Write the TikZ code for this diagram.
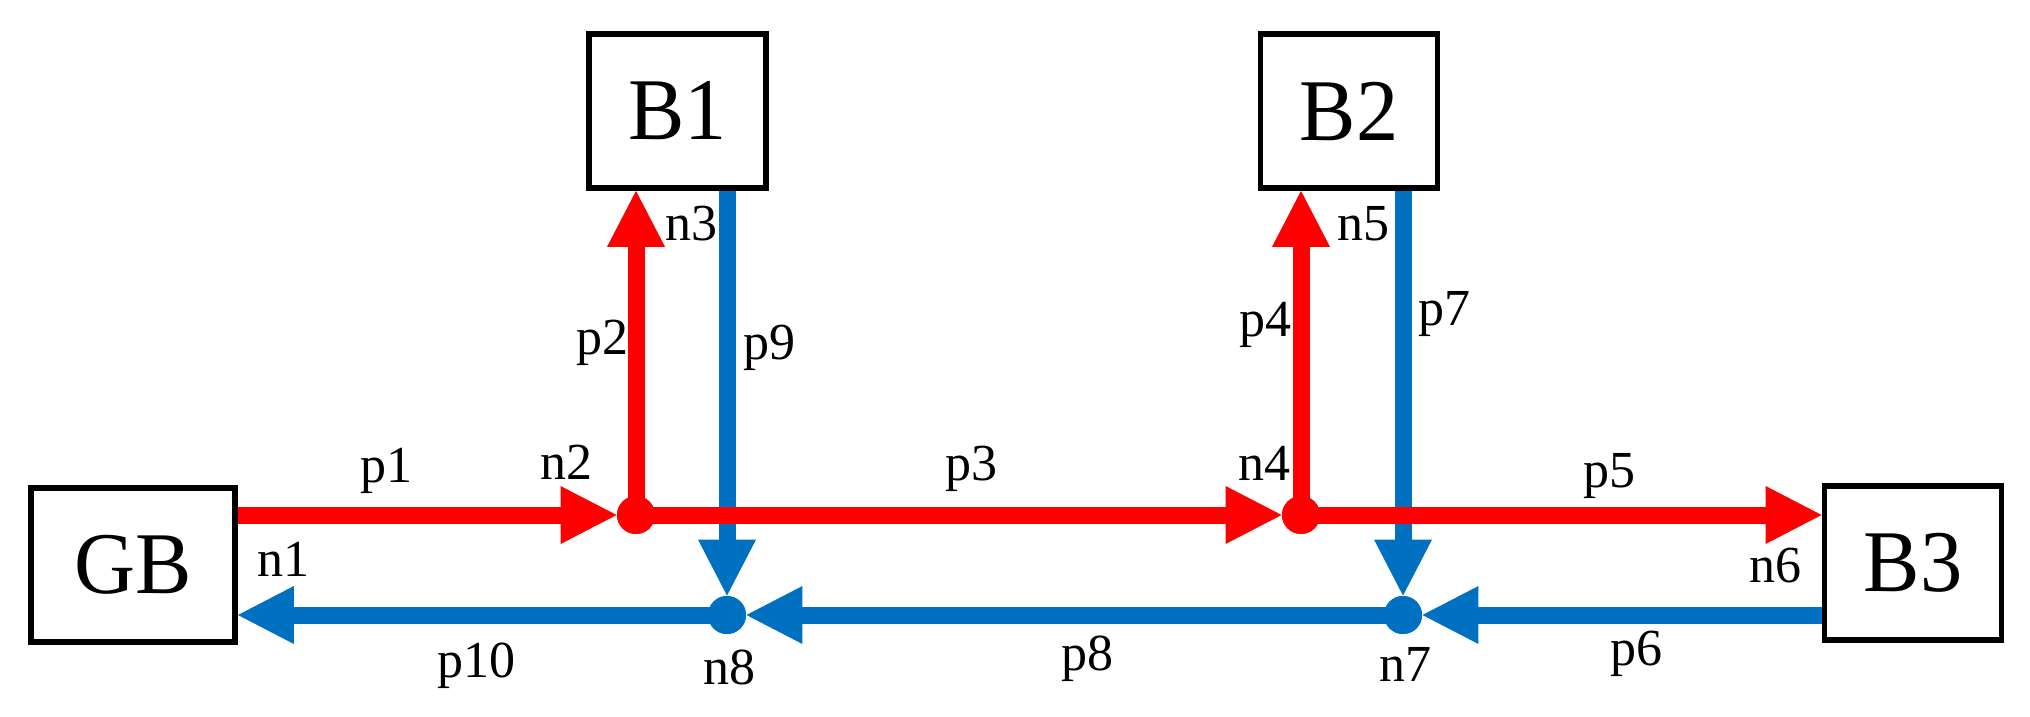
\documentclass[tikz,border=0pt]{standalone}
\usepackage{fontspec}
\setmainfont{Liberation Serif}
\newfontfamily\lblfont{Liberation Serif}
\newfontfamily\boxfont[FakeStretch=0.96]{Liberation Serif}
\usetikzlibrary{arrows.meta}
\definecolor{myred}{RGB}{255,0,0}
\definecolor{myblue}{RGB}{0,112,192}
\tikzset{
  box/.style={draw=black, line width=2.9pt, rectangle, inner sep=0pt, minimum height=77pt, font=\boxfont\fontsize{44pt}{50pt}\selectfont},
  rdot/.style={circle, fill=myred, inner sep=0pt, minimum size=19pt},
  bdot/.style={circle, fill=myblue, inner sep=0pt, minimum size=19pt},
  redline/.style={draw=myred, line width=8.5pt, -{Triangle[length=28pt,width=29pt,line width=0pt]}},
  blueline/.style={draw=myblue, line width=8.5pt, -{Triangle[length=28pt,width=29pt,line width=0pt]}},
  lbl/.style={anchor=base, inner sep=0pt, font=\lblfont\fontsize{26pt}{30pt}\selectfont}
}
\begin{document}
\begin{tikzpicture}[x=0.5pt, y=-0.5pt]
\useasboundingbox (0,0) rectangle (2030,717);
% boxes
\node[box, minimum width=102pt] (GB) at (133,565) {GB};
\node[box, minimum width=88.5pt] (B1) at (677.5,111) {B1};
\node[box, minimum width=88.5pt] (B2) at (1349,111) {B2};
\node[box, minimum width=88.5pt] (B3) at (1913,563) {B3};
% junctions
\node[rdot] (n2) at (636,515) {};
\node[rdot] (n4) at (1301,515) {};
\node[bdot] (n8) at (727,615) {};
\node[bdot] (n7) at (1403,615) {};
% blue flows
\draw[blueline] (n8 |- B1.south) -- (n8);
\draw[blueline] (n7 |- B2.south) -- (n7);
\draw[blueline] (B3.west |- n7) -- (n7);
\draw[blueline] (n7.center) -- (n8);
\draw[blueline] (n8.center) -- (GB.east |- n8);
% red flows
\draw[redline] (GB.east |- n2) -- (n2);
\draw[redline] (n2.center) -- (n4);
\draw[redline] (n4.center) -- (B3.west |- n4);
\draw[redline] (n2.center) -- (n2 |- B1.south);
\draw[redline] (n4.center) -- (n4 |- B2.south);
% redraw dots on top
\node[rdot] at (n2) {};
\node[rdot] at (n4) {};
\node[bdot] at (n8) {};
\node[bdot] at (n7) {};
% labels
\node[lbl] (lp1) at (386,482) {p1};
\node[lbl] (ln2) at (566,479) {n2};
\node[lbl] (lp2) at (602,354) {p2};
\node[lbl] (ln3) at (691,240) {n3};
\node[lbl] (lp9) at (769,359) {p9};
\node[lbl] (lp3) at (971,480) {p3};
\node[lbl] (ln1) at (283,576) {n1};
\node[lbl] (lp10) at (476,677) {p10};
\node[lbl] (ln8) at (729,684) {n8};
\node[lbl] (ln5) at (1363,240) {n5};
\node[lbl] (lp4) at (1265,336) {p4};
\node[lbl] (lp7) at (1444,325) {p7};
\node[lbl] (ln4) at (1264,480) {n4};
\node[lbl] (lp5) at (1609,487) {p5};
\node[lbl] (ln6) at (1775,582) {n6};
\node[lbl] (lp6) at (1636,665) {p6};
\node[lbl] (lp8) at (1087,670) {p8};
\node[lbl] (ln7) at (1405,681) {n7};
\end{tikzpicture}
\end{document}
